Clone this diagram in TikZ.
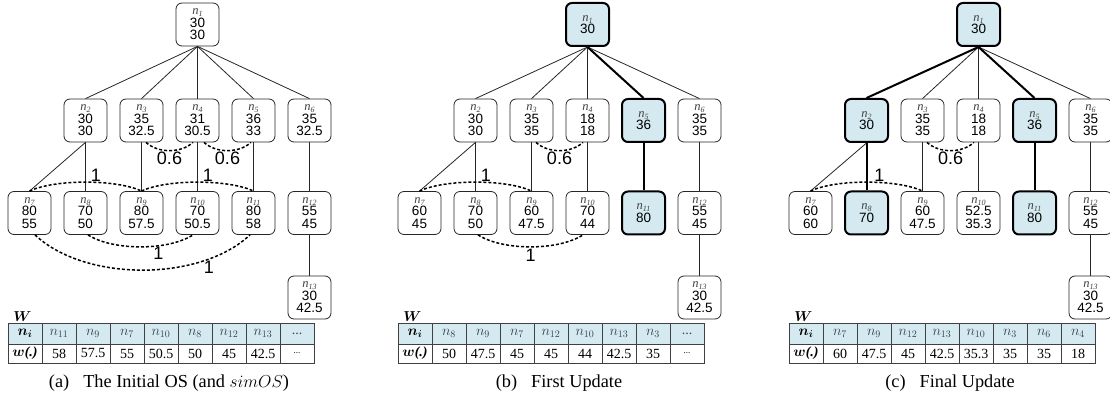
\documentclass[tikz,border=0pt]{standalone}
\usepackage{bm}
\usepackage{fontspec}
\setmainfont{Liberation Serif}
\setsansfont{Liberation Sans}
\definecolor{hl}{RGB}{212,234,240}
\definecolor{hdtext}{RGB}{55,66,76}
\newcommand{\nlab}[1]{{\fontsize{12.5}{12.5}\selectfont\rmfamily\itshape\color{black!75}n\raisebox{-0.35ex}{\fontsize{8}{8}\selectfont #1}}}
\tikzset{
  box/.style={draw=black!85, line width=0.8pt, rounded corners=6pt, minimum width=43pt, minimum height=43pt, inner sep=0pt, align=center, font=\sffamily\fontsize{13.5}{12.5}\selectfont, fill=white},
  hbox/.style={box, fill=hl, line width=2pt, draw=black},
  thinedge/.style={line width=0.8pt, draw=black!85},
  tedge/.style={line width=2pt, draw=black},
  dotarc/.style={line width=1.5pt, dash pattern=on 3pt off 2pt},
  wlab/.style={font=\sffamily\fontsize{18}{18}\selectfont, inner sep=0.5pt},
  hcell/.style={draw=black!75, line width=0.8pt, fill=hl, minimum width=34pt, minimum height=21pt, inner sep=0pt, font=\fontsize{14}{14}\selectfont, text=hdtext},
  vcell/.style={draw=black!75, line width=0.8pt, minimum width=34pt, minimum height=19pt, inner sep=0pt, font=\fontsize{14}{14}\selectfont},
  captext/.style={font=\fontsize{18.3}{18.3}\selectfont, inner sep=0pt},
  wtitle/.style={font=\fontsize{14}{14}\selectfont, inner sep=0pt}
}
\begin{document}
\begin{tikzpicture}[x=1pt,y=-1pt]
\useasboundingbox (0,0) rectangle (1110,403);
% ---------------- Panel (a)
\begin{scope}
\node[box] (a1) at (197.5,24.5) {\nlab{1}\\30\\30};
\node[box] (a2) at (85.5,120.5) {\nlab{2}\\30\\30};
\node[box] (a3) at (141.5,120.5) {\nlab{3}\\35\\32.5};
\node[box] (a4) at (197.5,120.5) {\nlab{4}\\31\\30.5};
\node[box] (a5) at (253.5,120.5) {\nlab{5}\\36\\33};
\node[box] (a6) at (309.5,120.5) {\nlab{6}\\35\\32.5};
\node[box] (a7) at (29.5,213) {\nlab{7}\\80\\55};
\node[box] (a8) at (85.5,213) {\nlab{8}\\70\\50};
\node[box] (a9) at (141.5,213) {\nlab{9}\\80\\57.5};
\node[box] (a10) at (197.5,213) {\nlab{10}\\70\\50.5};
\node[box] (a11) at (253.5,213) {\nlab{11}\\80\\58};
\node[box] (a12) at (309.5,213) {\nlab{12}\\55\\45};
\node[box] (a13) at (309.5,297.5) {\nlab{13}\\30\\42.5};
\foreach \cc in {a2,a3,a4,a5,a6} \draw[thinedge] (a1.south) -- (\cc.north);
\draw[thinedge] (a2.south) -- (a7.north);
\draw[thinedge] (a2.south) -- (a8.north);
\draw[thinedge] (a3.south) -- (a9.north);
\draw[thinedge] (a4.south) -- (a10.north);
\draw[thinedge] (a5.south) -- (a11.north);
\draw[thinedge] (a6.south) -- (a12.north);
\draw[thinedge] (a12.south) -- (a13.north);
\draw[dotarc] ([xshift=4.5pt]a3.south) .. controls +(12,11) and +(-12,11) .. ([xshift=-4.5pt]a4.south) node[wlab,pos=0.5,below] {0.6};
\draw[dotarc] ([xshift=6.5pt]a4.south) .. controls +(12,11) and +(-12,11) .. ([xshift=-2.5pt]a5.south) node[wlab,pos=0.5,below] {0.6};
\draw[dotarc] (a7.north) .. controls +(25,-12) and +(-25,-12) .. (a9.north) node[wlab,pos=0.58,above] {1};
\draw[dotarc] (a9.north) .. controls +(25,-12) and +(-25,-12) .. (a11.north) node[wlab,pos=0.58,above] {1};
\draw[dotarc] ([xshift=2.5pt]a8.south) .. controls +(25,16) and +(-25,16) .. ([xshift=-4.5pt]a10.south) node[wlab,pos=0.65,below] {1};
\draw[dotarc] ([xshift=5.5pt]a7.south) .. controls +(50,47) and +(-50,47) .. ([xshift=-3.5pt]a11.south) node[wlab,pos=0.78,below=1pt] {1};
\node[wtitle] (aW) at (22.5,316.5) {$\bm{W}$};
\node[hcell,text=black] (ah0) at (25,333.5) {$\bm{n_{i}}$};
\node[vcell] (av0) at (25,353.5) {$\bm{w}$\textbf{\textit{(.)}}};
\foreach \k/\h/\v in {1/{$n_{11}$}/58,2/{$n_{9}$}/57.5,3/{$n_{7}$}/55,4/{$n_{10}$}/50.5,5/{$n_{8}$}/50,6/{$n_{12}$}/45,7/{$n_{13}$}/42.5,8/{...}/{\fontsize{9}{9}\selectfont...}}{
  \node[hcell] (ah\k) at ({25+34*\k},333.5) {\h};
  \node[vcell] (av\k) at ({25+34*\k},353.5) {\v};
}
\node[captext] (acap) at (169,383) {(a)\hspace{14pt}The Initial OS (and $simOS$)};
\end{scope}
% ---------------- Panel (b)
\begin{scope}[xshift=390pt]
\node[hbox] (b1) at (197.5,24.5) {\nlab{1}\\30};
\node[box] (b2) at (85.5,120.5) {\nlab{2}\\30\\30};
\node[box] (b3) at (141.5,120.5) {\nlab{3}\\35\\35};
\node[box] (b4) at (197.5,120.5) {\nlab{4}\\18\\18};
\node[hbox] (b5) at (253.5,120.5) {\nlab{5}\\36};
\node[box] (b6) at (309.5,120.5) {\nlab{6}\\35\\35};
\node[box] (b7) at (29.5,213) {\nlab{7}\\60\\45};
\node[box] (b8) at (85.5,213) {\nlab{8}\\70\\50};
\node[box] (b9) at (141.5,213) {\nlab{9}\\60\\47.5};
\node[box] (b10) at (197.5,213) {\nlab{10}\\70\\44};
\node[hbox] (b11) at (253.5,213) {\nlab{11}\\80};
\node[box] (b12) at (309.5,213) {\nlab{12}\\55\\45};
\node[box] (b13) at (309.5,297.5) {\nlab{13}\\30\\42.5};
\foreach \cc in {b2,b3,b4,b6} \draw[thinedge] (b1.south) -- (\cc.north);
\draw[tedge] (b1.south) -- (b5.north);
\draw[thinedge] (b2.south) -- (b7.north);
\draw[thinedge] (b2.south) -- (b8.north);
\draw[thinedge] (b3.south) -- (b9.north);
\draw[thinedge] (b4.south) -- (b10.north);
\draw[tedge] (b5.south) -- (b11.north);
\draw[thinedge] (b6.south) -- (b12.north);
\draw[thinedge] (b12.south) -- (b13.north);
\draw[dotarc] ([xshift=4.5pt]b3.south) .. controls +(12,11) and +(-12,11) .. ([xshift=-4.5pt]b4.south) node[wlab,pos=0.5,below] {0.6};
\draw[dotarc] (b7.north) .. controls +(25,-12) and +(-25,-12) .. (b9.north) node[wlab,pos=0.58,above] {1};
\draw[dotarc] ([xshift=2.5pt]b8.south) .. controls +(25,16) and +(-25,16) .. ([xshift=-4.5pt]b10.south) node[wlab,pos=0.5,below=1pt] {1};
\node[wtitle] (bW) at (22.5,316.5) {$\bm{W}$};
\node[hcell,text=black] (bh0) at (25,333.5) {$\bm{n_{i}}$};
\node[vcell] (bv0) at (25,353.5) {$\bm{w}$\textbf{\textit{(.)}}};
\foreach \k/\h/\v in {1/{$n_{8}$}/50,2/{$n_{9}$}/47.5,3/{$n_{7}$}/45,4/{$n_{12}$}/45,5/{$n_{10}$}/44,6/{$n_{13}$}/42.5,7/{$n_{3}$}/35,8/{...}/{\fontsize{9}{9}\selectfont...}}{
  \node[hcell] (bh\k) at ({25+34*\k},333.5) {\h};
  \node[vcell] (bv\k) at ({25+34*\k},353.5) {\v};
}
\node[captext] (bcap) at (169,383) {(b)\hspace{14pt}First Update};
\end{scope}
% ---------------- Panel (c)
\begin{scope}[xshift=781pt]
\node[hbox] (c1) at (197.5,24.5) {\nlab{1}\\30};
\node[hbox] (c2) at (85.5,120.5) {\nlab{2}\\30};
\node[box] (c3) at (141.5,120.5) {\nlab{3}\\35\\35};
\node[box] (c4) at (197.5,120.5) {\nlab{4}\\18\\18};
\node[hbox] (c5) at (253.5,120.5) {\nlab{5}\\36};
\node[box] (c6) at (309.5,120.5) {\nlab{6}\\35\\35};
\node[box] (c7) at (29.5,213) {\nlab{7}\\60\\60};
\node[hbox] (c8) at (85.5,213) {\nlab{8}\\70};
\node[box] (c9) at (141.5,213) {\nlab{9}\\60\\47.5};
\node[box] (c10) at (197.5,213) {\nlab{10}\\52.5\\35.3};
\node[hbox] (c11) at (253.5,213) {\nlab{11}\\80};
\node[box] (c12) at (309.5,213) {\nlab{12}\\55\\45};
\node[box] (c13) at (309.5,297.5) {\nlab{13}\\30\\42.5};
\foreach \cc in {c3,c4,c6} \draw[thinedge] (c1.south) -- (\cc.north);
\draw[tedge] (c1.south) -- (c2.north);
\draw[tedge] (c1.south) -- (c5.north);
\draw[thinedge] (c2.south) -- (c7.north);
\draw[tedge] (c2.south) -- (c8.north);
\draw[thinedge] (c3.south) -- (c9.north);
\draw[thinedge] (c4.south) -- (c10.north);
\draw[tedge] (c5.south) -- (c11.north);
\draw[thinedge] (c6.south) -- (c12.north);
\draw[thinedge] (c12.south) -- (c13.north);
\draw[dotarc] ([xshift=4.5pt]c3.south) .. controls +(12,11) and +(-12,11) .. ([xshift=-4.5pt]c4.south) node[wlab,pos=0.5,below] {0.6};
\draw[dotarc] (c7.north) .. controls +(25,-12) and +(-25,-12) .. (c9.north) node[wlab,pos=0.6,above] {1};
\node[wtitle] (cW) at (22.5,316.5) {$\bm{W}$};
\node[hcell,text=black] (ch0) at (25,333.5) {$\bm{n_{i}}$};
\node[vcell] (cv0) at (25,353.5) {$\bm{w}$\textbf{\textit{(.)}}};
\foreach \k/\h/\v in {1/{$n_{7}$}/60,2/{$n_{9}$}/47.5,3/{$n_{12}$}/45,4/{$n_{13}$}/42.5,5/{$n_{10}$}/35.3,6/{$n_{3}$}/35,7/{$n_{6}$}/35,8/{$n_{4}$}/18}{
  \node[hcell] (ch\k) at ({25+34*\k},333.5) {\h};
  \node[vcell] (cv\k) at ({25+34*\k},353.5) {\v};
}
\node[captext] (ccap) at (169,383) {(c)\hspace{14pt}Final Update};
\end{scope}
\end{tikzpicture}
\end{document}
